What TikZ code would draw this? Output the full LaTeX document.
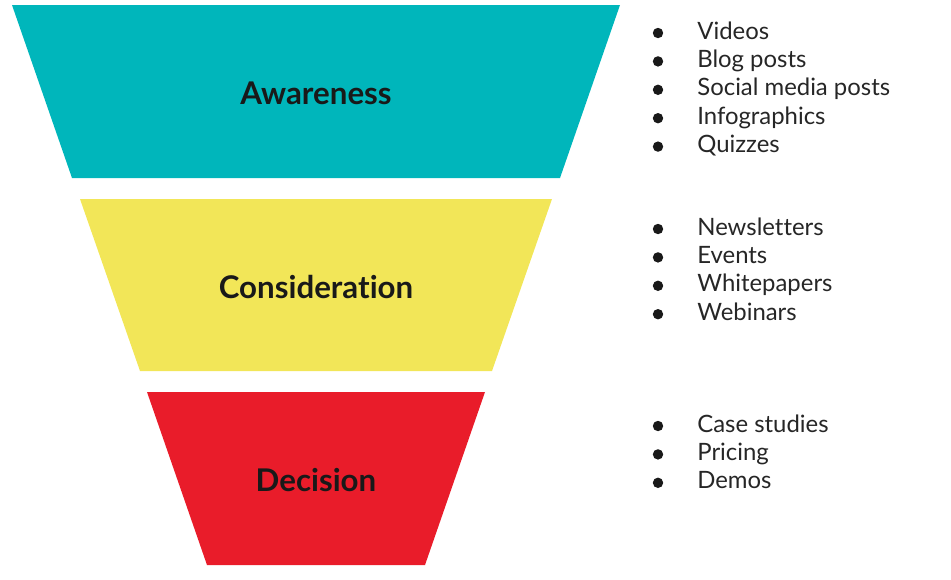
\documentclass[tikz,border=0pt]{standalone}
\usepackage{fontspec}
\setmainfont{Lato}[Ligatures=NoCommon]
\definecolor{awarecol}{RGB}{0,182,187}
\definecolor{considcol}{RGB}{242,230,88}
\definecolor{decidecol}{RGB}{233,28,42}

\begin{document}
\begin{tikzpicture}[x=0.02cm,y=-0.02cm,
    stage/.style={font=\fontsize{17.8}{20}\selectfont\bfseries,text=black!90},
    item/.style={anchor=base west,inner sep=0pt,font=\fontsize{13.6}{15}\selectfont,text=black!85}]
    \useasboundingbox (0,0) rectangle (951,579);

    \fill[awarecol]  (12,5)   -- (620,5)   -- (560,178) -- (72,178)  -- cycle;
    \fill[considcol] (80,199) -- (552,199) -- (492,371) -- (140,371) -- cycle;
    \fill[decidecol] (147,392) -- (485,392) -- (425,565) -- (207,565) -- cycle;

    \node[stage] (aware)  at (316,93)  {Awareness};
    \node[stage] (consid) at (316,287) {Consideration};
    \node[stage] (decide) at (316,480) {Decision};

    \foreach \txt [count=\i] in {Videos,Blog posts,Social media posts,Infographics,Quizzes}{
        \fill[black!90] (658,{39+28.4*(\i-1)-6}) circle (5.2);
        \node[item] (aw\i) at (697,{39+28.4*(\i-1)}) {\txt};
    }
    \foreach \txt [count=\i] in {Newsletters,Events,Whitepapers,Webinars}{
        \fill[black!90] (658,{235+28.4*(\i-1)-6}) circle (5.2);
        \node[item] (co\i) at (697,{235+28.4*(\i-1)}) {\txt};
    }
    \foreach \txt [count=\i] in {Case studies,Pricing,Demos}{
        \fill[black!90] (658,{432+28.4*(\i-1)-6}) circle (5.2);
        \node[item] (de\i) at (697,{432+28.4*(\i-1)}) {\txt};
    }
\end{tikzpicture}
\end{document}
